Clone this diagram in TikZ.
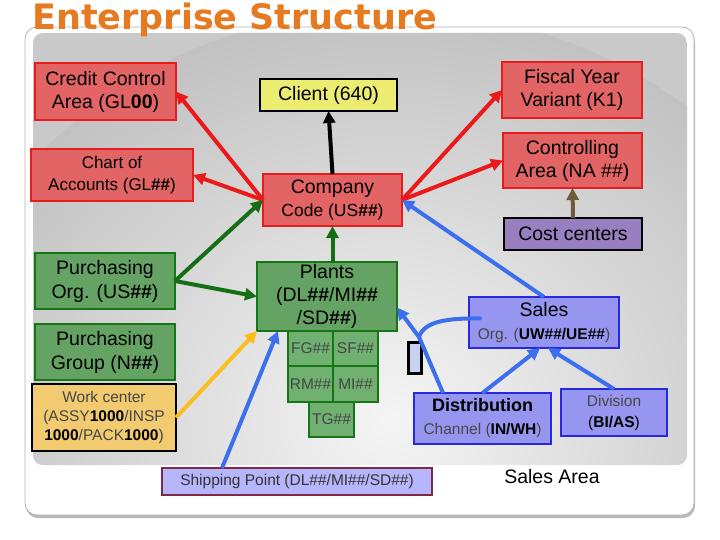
\documentclass[tikz,border=0pt]{standalone}
\usepackage{fontspec}
\setmainfont{Liberation Sans}
\newfontfamily\titlefont{DejaVu Sans}
\usetikzlibrary{arrows.meta,calc}
\definecolor{ttl}{RGB}{230,122,32}
\definecolor{redfill}{RGB}{226,100,100}
\definecolor{redline}{RGB}{232,28,28}
\definecolor{grnfill}{RGB}{100,163,100}
\definecolor{grnfillb}{RGB}{112,176,112}
\definecolor{grnline}{RGB}{22,118,22}
\definecolor{bluefill}{RGB}{150,150,240}
\definecolor{blueline}{RGB}{40,40,225}
\definecolor{shipfill}{RGB}{182,182,252}
\definecolor{shipline}{RGB}{130,40,70}
\definecolor{costfill}{RGB}{152,128,192}
\definecolor{clientfill}{RGB}{236,236,112}
\definecolor{wcfill}{RGB}{242,202,112}
\definecolor{glyphfill}{RGB}{200,210,240}
\definecolor{arrred}{RGB}{235,25,25}
\definecolor{arrgrn}{RGB}{20,110,20}
\definecolor{arrblue}{RGB}{60,110,240}
\definecolor{arryel}{RGB}{250,190,30}
\definecolor{arrbrn}{RGB}{110,90,60}
\definecolor{dimtext}{RGB}{70,70,70}
\newcommand\fbig{\fontsize{19.5}{23}\selectfont}
\newcommand\fmid{\fontsize{17.5}{21}\selectfont}
\newcommand\fchart{\fontsize{17}{22}\selectfont}
\newcommand\fsml{\fontsize{15.5}{19}\selectfont}
\tikzset{
  box/.style={rectangle, draw, line width=2.5pt, align=center, inner sep=0pt, outer sep=0pt},
  redbox/.style={box, fill=redfill, draw=redline},
  grnbox/.style={box, fill=grnfill, draw=grnline},
  smallgrn/.style={box, line width=2pt, fill=grnfillb, draw=grnline, minimum width=45, font=\fsml, text=dimtext},
  bluebox/.style={box, line width=2pt, fill=bluefill, draw=blueline},
  conn/.style={line width=4pt, -{Triangle[length=12pt,width=12pt]}},
}
\begin{document}
\begin{tikzpicture}[x=1pt,y=-1pt]
\useasboundingbox (0,0) rectangle (720,540);
% outer frame with shadow
\fill[gray!55, rounded corners=12] (26,30) rectangle (695,518);
\draw[gray!60, fill=white, line width=0.8pt, rounded corners=12] (25,27) rectangle (694,515);
% inner shaded panel
\begin{scope}
\clip[rounded corners=10] (33,33) rectangle (687,465);
\fill[gray!42] (33,33) rectangle (687,465);
\shade[inner color=gray!8, outer color=gray!48] (390,420) ellipse (460 and 410);
\end{scope}
% title
\node[anchor=base west, inner sep=0pt, text=ttl, font=\titlefont\bfseries\fontsize{35}{40}\selectfont] (title) at (32,30) {Enterprise Structure};

% nodes
\node[redbox, minimum width=141, minimum height=57, font=\fbig] (credit) at (105.5,91.5) {Credit Control\\Area (GL\textbf{00})};
\node[box, fill=clientfill, draw=black, minimum width=137, minimum height=32, font=\fbig] (client) at (328.5,95) {Client (640)};
\node[redbox, minimum width=162, minimum height=52, font=\fchart] (chart) at (112,175) {Chart of\\Accounts (GL\textbf{\#\#})};
\node[redbox, minimum width=139, minimum height=52, font=\fbig] (company) at (332.5,200) {{\fbig Company}\\{\fmid Code (US\textbf{\#\#})}};
\node[redbox, minimum width=140, minimum height=56, font=\fbig] (fiscal) at (572,90) {Fiscal Year\\Variant (K1)};
\node[redbox, minimum width=139, minimum height=55, font=\fbig] (ctrl) at (572.5,160.5) {Controlling\\Area (NA \#\#)};
\node[box, fill=costfill, draw=black, minimum width=138, minimum height=32, font=\fbig] (cost) at (573,234) {Cost centers};
\node[grnbox, minimum width=140, minimum height=56, font=\fontsize{19.5}{24}\selectfont] (porg) at (105,281) {Purchasing\\Org. (US\textbf{\#\#})};
\node[grnbox, minimum width=140, minimum height=56, font=\fontsize{19.5}{24}\selectfont] (pgrp) at (105,352) {Purchasing\\Group (N\textbf{\#\#})};
\node[box, fill=wcfill, draw=black, minimum width=144, minimum height=67, font=\fsml] (wc) at (104,417.5) {{\color{dimtext}Work center}\\{\color{dimtext}(ASSY}\textbf{1000}{\color{dimtext}/INSP}\\\textbf{1000}{\color{dimtext}/PACK}\textbf{1000}{\color{dimtext})}};
\node[grnbox, minimum width=140, minimum height=69, font=\fbig] (plants) at (327,296.5) {Plants\\(DL\textbf{\#\#}/MI\textbf{\#\#}\\/SD\textbf{\#\#})};
\node[smallgrn, minimum height=35] (fg) at (310.5,348.5) {FG\#\#};
\node[smallgrn, minimum height=35] (sf) at (355.5,348.5) {SF\#\#};
\node[smallgrn, minimum height=36] (rm) at (310.5,384) {RM\#\#};
\node[smallgrn, minimum height=36] (mi) at (355.5,384) {MI\#\#};
\node[smallgrn, minimum height=35] (tg) at (331.5,419.5) {TG\#\#};
\node[box, fill=glyphfill, draw=black, line width=3.5pt, minimum width=13, minimum height=31] (glyph) at (415,358) {};
\node[bluebox, minimum width=150, minimum height=51, font=\fbig] (sorg) at (544,322.5) {{\fbig Sales}\\{\fsml{\color{dimtext}Org. (}\textbf{UW\#\#/UE\#\#}{\color{dimtext})}}};
\node[bluebox, minimum width=137, minimum height=51, font=\fbig] (dist) at (482.5,418.5) {{\fontsize{18}{22}\selectfont\bfseries Distribution}\\{\fsml{\color{dimtext}Channel (}\textbf{IN/WH}{\color{dimtext})}}};
\node[bluebox, minimum width=106, minimum height=47, font=\fontsize{15.5}{21}\selectfont] (div) at (614,412.5) {{\color{dimtext}Division}\\(\textbf{BI/AS})};
\node[font=\fontsize{19.5}{23}\selectfont] (sarea) at (552,477) {Sales Area};
\node[box, line width=2pt, fill=shipfill, draw=shipline, minimum width=270, minimum height=27, font=\fsml, text=black!80] (ship) at (297,481.5) {Shipping Point (DL\#\#/MI\#\#/SD\#\#)};

% connectors
\draw[conn, arrred] (company.west) -- (credit.east);
\draw[conn, arrred] (company.west) -- (chart.east);
\draw[conn, arrred] (company.east) -- (fiscal.west);
\draw[conn, arrred] (company.east) -- (ctrl.west);
\draw[conn, black] (company.north) -- (client.south);
\draw[conn, arrbrn] (cost.north) -- (ctrl.south);
\draw[conn, arrgrn] (porg.east) -- (company.west);
\draw[conn, arrgrn] (porg.east) -- (plants.west);
\draw[conn, arrgrn] (company.south |- plants.north) -- (company.south);
\draw[conn, arryel] (wc.east) -- (plants.south west);
\draw[conn, arrblue] ($(ship.north west)+(60,0)$) -- ($(plants.south west)+(21,0)$);
\draw[conn, arrblue] (sorg.north) -- (company.east);
\coordinate (jn) at (419,337);
\draw[line width=4pt, arrblue] ($(dist.north west)+(29,0)$) -- (jn);
\draw[conn, arrblue] (jn) -- ($(plants.east)+(0,11)$);
\draw[line width=4pt, arrblue, line cap=round] (jn) .. controls (424,322) and (445,318) .. ($(sorg.west)+(11,-4)$);
\draw[conn, arrblue] (dist.north) -- ($(sorg.south)+(-4,0)$);
\draw[conn, arrblue] (div.north) -- ($(sorg.south)+(4,0)$);
\end{tikzpicture}
\end{document}
